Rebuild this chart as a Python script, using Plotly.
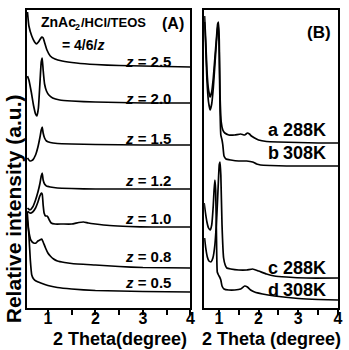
import plotly.graph_objects as go

# ---------------- data (intensity in a.u., stacked) ----------------
# Panel A : ZnAc2/HCl/TEOS = 4/6/z
a25_x = [0.57,0.6,0.66,0.72,0.76,0.8,0.84,0.87,0.9,0.94,0.98,1.05,1.15,1.3,1.6,2.0,2.5,3.0,3.5,4.0]
a25_y = [296,282,272,266,264,266,269,271,270,264,258,252,249,247,245,243.5,242.5,242,241.5,241]

a20_x = [0.57,0.6,0.65,0.7,0.74,0.77,0.8,0.83,0.86,0.88,0.9,0.93,0.97,1.02,1.1,1.25,1.5,2.0,2.5,3.0,4.0]
a20_y = [232,228,216,202,194,192,200,223,246,250,238,224,217,213,210,208,207,206,205.5,205,205]

a15_x = [0.57,0.62,0.68,0.74,0.79,0.83,0.86,0.88,0.9,0.93,0.97,1.05,1.2,1.5,2.0,3.0,4.0]
a15_y = [150,147,148,153,161,170,178,181,175,170,167,165.5,164.5,164,163.5,163,163]

a12_x = [0.57,0.62,0.68,0.74,0.79,0.83,0.86,0.88,0.9,0.93,0.97,1.05,1.2,1.5,2.0,3.0,4.0]
a12_y = [100,98,101,108,116,124,132,135,128,124,122,121,120,119.5,119,119,119]

a10_x = [0.57,0.62,0.68,0.74,0.79,0.83,0.86,0.88,0.9,0.92,0.95,0.98,1.0,1.03,1.07,1.15,1.3,1.5,1.65,1.75,1.85,2.0,2.3,2.7,3.2,4.0]
a10_y = [97,95,96,100,106,112,115,114,103,95,92,92,91,88,85,84,84,84,85.5,86,85,84,82.5,81.5,81,81]

a08_x = [0.565,0.6,0.64,0.7,0.75,0.79,0.83,0.87,0.9,0.95,1.0,1.05,1.12,1.2,1.35,1.5,2.0,2.5,3.0,4.0]
a08_y = [88,76,68,65,65,67,68,69,66,60,55,52,49,47,45.5,44.5,43,41.5,40.5,40]

a05_x = [0.565,0.6,0.63,0.66,0.7,0.75,0.85,1.0,1.2,1.5,2.0,2.5,3.0,4.0]
a05_y = [96,73,48,33,29,27,25,22.5,20.5,19,17.5,17,16.5,16]

panelA = [(a25_x, a25_y), (a20_x, a20_y), (a15_x, a15_y), (a12_x, a12_y),
          (a10_x, a10_y), (a08_x, a08_y), (a05_x, a05_y)]
labelsA = ["2.5", "2.0", "1.5", "1.2", "1.0", "0.8", "0.5"]

# Panel B : temperature series
ba_x = [0.64,0.67,0.7,0.74,0.78,0.82,0.86,0.9,0.94,0.97,0.99,1.01,1.03,1.06,1.1,1.15,1.25,1.4,1.55,1.65,1.72,1.77,1.82,1.9,2.0,2.2,2.5,3.0,3.5,4.0]
ba_y = [292,268,238,218,211,216,230,250,270,284,286,268,213,186,178,175,173,173,174,173,175,174,172,170,168,166.5,166,165.5,165,165]

bb_x = [0.64,0.67,0.7,0.74,0.78,0.82,0.86,0.9,0.94,0.97,0.99,1.01,1.03,1.05,1.08,1.1,1.13,1.18,1.3,1.5,1.7,1.85,1.95,2.05,2.3,2.7,3.2,4.0]
bb_y = [286,260,228,206,198,204,220,243,266,280,283,253,198,173,168,163,152,149,148,147,147,146,144,143,142.5,142,142,142]

bc_x = [0.64,0.67,0.71,0.75,0.8,0.85,0.9,0.95,0.99,1.01,1.03,1.05,1.08,1.12,1.16,1.2,1.3,1.5,1.7,1.85,2.0,2.2,2.4,2.7,3.2,4.0]
bc_y = [70,60,51,47,46,50,63,93,128,143,146,133,83,50,43,40,39,38,38,39,37,34,32,31,30,30]

bd_x = [0.63,0.66,0.7,0.74,0.78,0.82,0.86,0.88,0.9,0.92,0.94,0.96,0.99,1.02,1.05,1.08,1.13,1.25,1.4,1.55,1.65,1.72,1.8,1.9,2.1,2.4,3.0,3.5,4.0]
bd_y = [105,96,86,80,78,83,103,118,128,118,73,36,33,31,28,22,19,18,18,19,22,21,18,16,14,12,9.5,8.5,8]

panelB = [(ba_x, ba_y), (bb_x, bb_y), (bc_x, bc_y), (bd_x, bd_y)]
labelsB = [("a", "288K"), ("b", "308K"), ("c", "288K"), ("d", "308K")]

# ---------------- figure ----------------
W, H = 349, 350
ML, MR, MT, MB = 27, 6, 10, 42
PW, PH = W - ML - MR, H - MT - MB
FONT = "Liberation Sans, Arial, sans-serif"

def px(x):
    return (x - ML) / PW

def py(y):
    return (H - MB - y) / PH

fig = go.Figure()
for xs, ys in panelA:
    fig.add_trace(go.Scatter(x=xs, y=ys, mode="lines", xaxis="x", yaxis="y",
                             line=dict(color="black", width=1.7, shape="spline", smoothing=0.4),
                             showlegend=False, hoverinfo="skip"))
for xs, ys in panelB:
    fig.add_trace(go.Scatter(x=xs, y=ys, mode="lines", xaxis="x2", yaxis="y2",
                             line=dict(color="black", width=1.7, shape="spline", smoothing=0.4),
                             showlegend=False, hoverinfo="skip"))

axis_common = dict(showline=True, linecolor="black", linewidth=2, mirror=True,
                   showgrid=False, zeroline=False)
xcommon = dict(axis_common, ticks="outside", ticklen=5, tickwidth=1.5, tickcolor="black",
               tick0=0, dtick=1, ticklabelstandoff=-10,
               minor=dict(dtick=0.5, ticks="outside", ticklen=5, tickwidth=1.5, tickcolor="black"),
               tickfont=dict(family=FONT, size=16, color="black", weight="bold"))
ycommon = dict(axis_common, showticklabels=False, ticks="", range=[0, PH])

fig.update_layout(
    width=W, height=H, margin=dict(l=ML, r=MR, t=MT, b=MB),
    paper_bgcolor="white", plot_bgcolor="white",
    xaxis=dict(xcommon, domain=[0, px(193)], range=[0.56, 4.0], anchor="y"),
    yaxis=dict(ycommon, domain=[0, 1], anchor="x"),
    xaxis2=dict(xcommon, domain=[px(207), 1], range=[0.63, 4.0], anchor="y2"),
    yaxis2=dict(ycommon, domain=[0, 1], anchor="x2"),
)

def note(text, x, y, size, xanchor="left", yanchor="middle", textangle=0):
    fig.add_annotation(text=text, x=px(x), y=py(y), xref="paper", yref="paper",
                       xanchor=xanchor, yanchor=yanchor, showarrow=False, textangle=textangle,
                       borderpad=0,
                       font=dict(family=FONT, size=size, color="black", weight="bold"))

# composition label, split so the subscript sits right
note("ZnAc", 40, 22, 14)
note("2", 75, 27, 9)
note("/HCl/TEOS", 81, 22, 13)
note("(A)", 163, 23, 16)
note("= 4/6/<i>z</i>", 62, 45, 14)
zlab_y = [62, 98, 138, 180, 218, 256, 282]
for lab, yy in zip(labelsA, zlab_y):
    note("<i>z</i> = " + lab, 174, yy, 15, xanchor="right")

note("(B)", 310, 32, 17)
blab_y = [130, 153, 268, 290]
for (l, t), yy in zip(labelsB, blab_y):
    note(l, 271, yy, 18)
    note(t, 332, yy, 18, xanchor="right")

note("2 Theta(degree)", 122, 339, 18, xanchor="center")
note("2 Theta (degree)", 275, 339, 18, xanchor="center")
note("Relative intensity (a.u.)", 13, 209, 21, xanchor="center", textangle=-90)

fig.write_html("out.html")
